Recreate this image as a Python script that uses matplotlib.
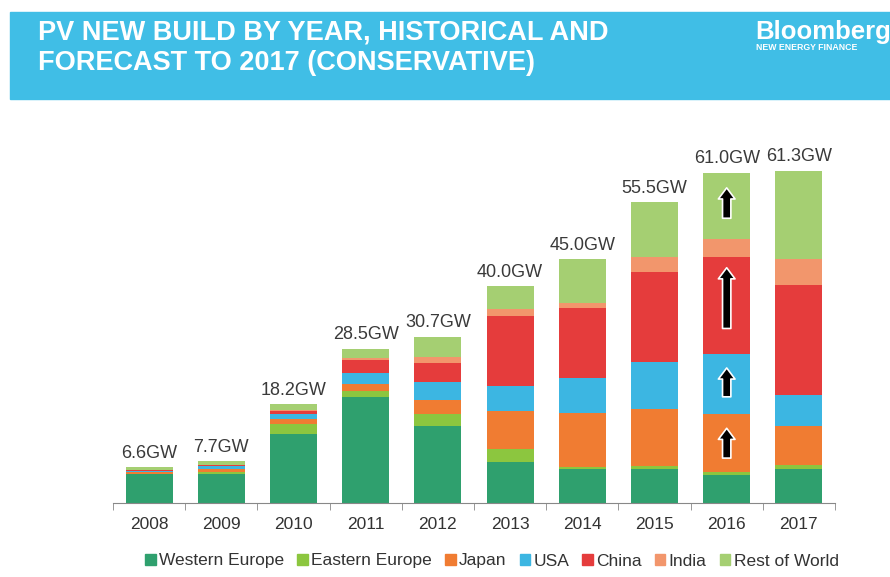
import numpy as np
import matplotlib.pyplot as plt
from matplotlib.patches import Rectangle, Patch

plt.rcParams['font.family'] = ['Liberation Sans', 'DejaVu Sans']

years = ['2008', '2009', '2010', '2011', '2012', '2013', '2014', '2015', '2016', '2017']
totals = ['6.6GW', '7.7GW', '18.2GW', '28.5GW', '30.7GW', '40.0GW', '45.0GW', '55.5GW', '61.0GW', '61.3GW']

regions = ['Western Europe', 'Eastern Europe', 'Japan', 'USA', 'China', 'India', 'Rest of World']
western_europe = [5.3, 5.3, 12.7, 19.5, 14.3, 7.5, 6.2, 6.3, 5.2, 6.3]
eastern_europe = [0.1, 0.5, 1.8, 1.2, 2.2, 2.5, 0.5, 0.6, 0.5, 0.8]
japan = [0.25, 0.5, 1.0, 1.3, 2.5, 7.0, 10.0, 10.5, 10.8, 7.1]
usa = [0.3, 0.5, 1.0, 2.0, 3.4, 4.6, 6.4, 8.6, 11.1, 5.8]
china = [0.15, 0.2, 0.5, 2.4, 3.5, 13.0, 12.9, 16.6, 17.8, 20.3]
india = [0.0, 0.05, 0.2, 0.3, 1.1, 1.2, 1.0, 2.8, 3.4, 4.7]
rest_of_world = [0.5, 0.65, 1.0, 1.8, 3.7, 4.2, 8.0, 10.1, 12.2, 16.3]

colors = ['#2fa06e', '#8cc63f', '#f07c32', '#3cb6e2', '#e53c3c', '#f2966c', '#a5cf72']

# arrows drawn inside the 2016 bar: (segment index, low fraction, high fraction)
arrow_year = 8
arrows = [(2, 0.24, 0.75), (3, 0.28, 0.76), (4, 0.26, 0.89), (6, 0.31, 0.77)]

fig = plt.figure(figsize=(8.9, 5.77), dpi=100)

# header band
fig.patches.append(Rectangle((10 / 890, 1 - 99 / 577), 1, 87 / 577, transform=fig.transFigure,
                             color='#40bee6', zorder=0))
fig.text(38 / 890, 1 - 33 / 577, 'PV NEW BUILD BY YEAR, HISTORICAL AND', color='white',
         fontsize=19.5, fontweight='bold', va='center')
fig.text(38 / 890, 1 - 63 / 577, 'FORECAST TO 2017 (CONSERVATIVE)', color='white',
         fontsize=19.5, fontweight='bold', va='center')
fig.text(755 / 890, 1 - 32 / 577, 'Bloomberg', color='white', fontsize=18.5, fontweight='bold', va='center')
fig.text(756 / 890, 1 - 48 / 577, 'NEW ENERGY FINANCE', color='white', fontsize=6.3, fontweight='bold', va='center')

ax = fig.add_axes([113 / 890, 74 / 577, 722 / 890, 352 / 577])
x = np.arange(len(years))
series = [western_europe, eastern_europe, japan, usa, china, india, rest_of_world]
bottom = np.zeros(len(years))
bottoms = []
for vals, c, name in zip(series, colors, regions):
    vals = np.array(vals)
    ax.bar(x, vals, 0.65, bottom=bottom, color=c, label=name, linewidth=0)
    bottoms.append(bottom.copy())
    bottom = bottom + vals

for xi, top, lab in zip(x, bottom, totals):
    ax.annotate(lab, (xi, top), xytext=(0, 4), textcoords='offset points', ha='center', va='bottom',
                fontsize=13, color='#3a3a3a')

for seg, lo, hi in arrows:
    b = bottoms[seg][arrow_year]
    h = series[seg][arrow_year]
    ax.annotate('', xy=(arrow_year, b + hi * h), xytext=(arrow_year, b + lo * h),
                arrowprops=dict(arrowstyle='simple,head_length=0.4,head_width=0.6,tail_width=0.3',
                                fc='black', ec='white', lw=1.2, mutation_scale=20, shrinkA=0, shrinkB=0))

ax.set_xlim(-0.5, len(years) - 0.5)
ax.set_ylim(0, 65)
for s in ['top', 'left', 'right']:
    ax.spines[s].set_visible(False)
ax.spines['bottom'].set_color('#888888')
ax.set_yticks([])
ax.set_xticks(x)
ax.set_xticklabels(years, fontsize=12.5, color='#333333')
ax.tick_params(axis='x', which='major', length=0, pad=10)
ax.set_xticks(np.arange(-0.5, len(years)), minor=True)
ax.tick_params(axis='x', which='minor', length=5, color='#888888', direction='out')

handles = [Patch(color=c, label=n) for c, n in zip(colors, regions)]
fig.legend(handles=handles, loc='center', bbox_to_anchor=(492 / 890, 1 - 561 / 577), ncol=7,
           frameon=False, fontsize=12.5, handlelength=0.6, handleheight=0.6, handletextpad=0.2,
           columnspacing=0.75, labelcolor='#333333')

fig.savefig('out.png', dpi=100)
